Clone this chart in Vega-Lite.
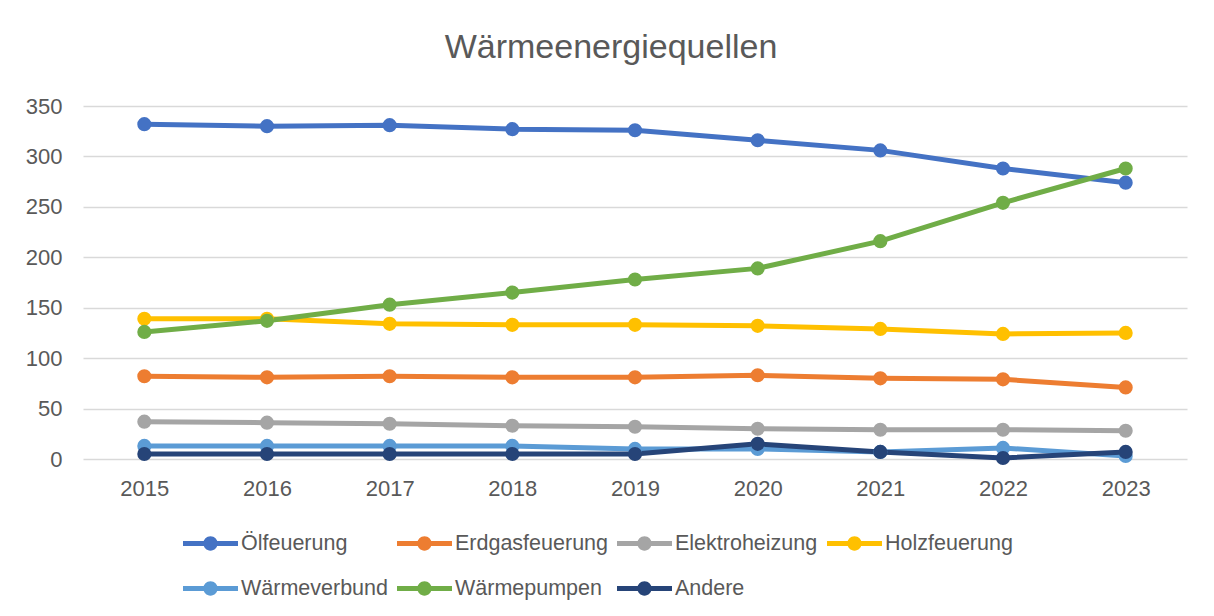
{
  "$schema": "https://vega.github.io/schema/vega-lite/v6.json",
  "autosize": {"type": "none"},
  "width": 1104,
  "height": 353,
  "padding": {"left": 83, "top": 106, "right": 27, "bottom": 157},
  "background": "white",
  "title": {
    "text": "Wärmeenergiequellen",
    "fontSize": 34,
    "font": "Liberation Sans",
    "fontWeight": "normal",
    "color": "#595959",
    "anchor": "middle",
    "dx": -24,
    "offset": 30
  },
  "data": {
    "values": [
      {"year": "2015", "series": "Ölfeuerung", "value": 332},
      {"year": "2016", "series": "Ölfeuerung", "value": 330},
      {"year": "2017", "series": "Ölfeuerung", "value": 331},
      {"year": "2018", "series": "Ölfeuerung", "value": 327},
      {"year": "2019", "series": "Ölfeuerung", "value": 326},
      {"year": "2020", "series": "Ölfeuerung", "value": 316},
      {"year": "2021", "series": "Ölfeuerung", "value": 306},
      {"year": "2022", "series": "Ölfeuerung", "value": 288},
      {"year": "2023", "series": "Ölfeuerung", "value": 274},
      {"year": "2015", "series": "Erdgasfeuerung", "value": 82},
      {"year": "2016", "series": "Erdgasfeuerung", "value": 81},
      {"year": "2017", "series": "Erdgasfeuerung", "value": 82},
      {"year": "2018", "series": "Erdgasfeuerung", "value": 81},
      {"year": "2019", "series": "Erdgasfeuerung", "value": 81},
      {"year": "2020", "series": "Erdgasfeuerung", "value": 83},
      {"year": "2021", "series": "Erdgasfeuerung", "value": 80},
      {"year": "2022", "series": "Erdgasfeuerung", "value": 79},
      {"year": "2023", "series": "Erdgasfeuerung", "value": 71},
      {"year": "2015", "series": "Elektroheizung", "value": 37},
      {"year": "2016", "series": "Elektroheizung", "value": 36},
      {"year": "2017", "series": "Elektroheizung", "value": 35},
      {"year": "2018", "series": "Elektroheizung", "value": 33},
      {"year": "2019", "series": "Elektroheizung", "value": 32},
      {"year": "2020", "series": "Elektroheizung", "value": 30},
      {"year": "2021", "series": "Elektroheizung", "value": 29},
      {"year": "2022", "series": "Elektroheizung", "value": 29},
      {"year": "2023", "series": "Elektroheizung", "value": 28},
      {"year": "2015", "series": "Holzfeuerung", "value": 139},
      {"year": "2016", "series": "Holzfeuerung", "value": 139},
      {"year": "2017", "series": "Holzfeuerung", "value": 134},
      {"year": "2018", "series": "Holzfeuerung", "value": 133},
      {"year": "2019", "series": "Holzfeuerung", "value": 133},
      {"year": "2020", "series": "Holzfeuerung", "value": 132},
      {"year": "2021", "series": "Holzfeuerung", "value": 129},
      {"year": "2022", "series": "Holzfeuerung", "value": 124},
      {"year": "2023", "series": "Holzfeuerung", "value": 125},
      {"year": "2015", "series": "Wärmeverbund", "value": 13},
      {"year": "2016", "series": "Wärmeverbund", "value": 13},
      {"year": "2017", "series": "Wärmeverbund", "value": 13},
      {"year": "2018", "series": "Wärmeverbund", "value": 13},
      {"year": "2019", "series": "Wärmeverbund", "value": 10},
      {"year": "2020", "series": "Wärmeverbund", "value": 10},
      {"year": "2021", "series": "Wärmeverbund", "value": 7},
      {"year": "2022", "series": "Wärmeverbund", "value": 11},
      {"year": "2023", "series": "Wärmeverbund", "value": 3},
      {"year": "2015", "series": "Wärmepumpen", "value": 126},
      {"year": "2016", "series": "Wärmepumpen", "value": 137},
      {"year": "2017", "series": "Wärmepumpen", "value": 153},
      {"year": "2018", "series": "Wärmepumpen", "value": 165},
      {"year": "2019", "series": "Wärmepumpen", "value": 178},
      {"year": "2020", "series": "Wärmepumpen", "value": 189},
      {"year": "2021", "series": "Wärmepumpen", "value": 216},
      {"year": "2022", "series": "Wärmepumpen", "value": 254},
      {"year": "2023", "series": "Wärmepumpen", "value": 288},
      {"year": "2015", "series": "Andere", "value": 5},
      {"year": "2016", "series": "Andere", "value": 5},
      {"year": "2017", "series": "Andere", "value": 5},
      {"year": "2018", "series": "Andere", "value": 5},
      {"year": "2019", "series": "Andere", "value": 5},
      {"year": "2020", "series": "Andere", "value": 15},
      {"year": "2021", "series": "Andere", "value": 7},
      {"year": "2022", "series": "Andere", "value": 1},
      {"year": "2023", "series": "Andere", "value": 7}
    ]
  },
  "mark": {
    "type": "line",
    "strokeWidth": 5,
    "point": {"filled": true, "size": 200, "opacity": 1}
  },
  "encoding": {
    "x": {
      "field": "year",
      "type": "ordinal",
      "title": null,
      "scale": {"type": "point", "padding": 0.5},
      "axis": {
        "labelAngle": 0,
        "ticks": false,
        "domain": false,
        "grid": false,
        "labelFontSize": 22,
        "labelFont": "Liberation Sans",
        "labelColor": "#595959",
        "labelPadding": 19
      }
    },
    "y": {
      "field": "value",
      "type": "quantitative",
      "title": null,
      "scale": {"domain": [0, 350], "nice": false},
      "axis": {
        "values": [0, 50, 100, 150, 200, 250, 300, 350],
        "ticks": false,
        "domain": false,
        "grid": true,
        "gridColor": "#d9d9d9",
        "gridWidth": 1.5,
        "labelFontSize": 22,
        "labelFont": "Liberation Sans",
        "labelColor": "#595959",
        "labelPadding": 21
      }
    },
    "color": {
      "field": "series",
      "type": "nominal",
      "sort": ["Ölfeuerung", "Erdgasfeuerung", "Elektroheizung", "Holzfeuerung", "Wärmeverbund", "Wärmepumpen", "Andere"],
      "scale": {
        "domain": ["Ölfeuerung", "Erdgasfeuerung", "Elektroheizung", "Holzfeuerung", "Wärmeverbund", "Wärmepumpen", "Andere"],
        "range": ["#4472C4", "#ED7D31", "#A5A5A5", "#FFC000", "#5B9BD5", "#70AD47", "#264478"]
      },
      "legend": {
        "title": null,
        "orient": "none",
        "legendX": 100,
        "legendY": 410,
        "direction": "horizontal",
        "columns": 4,
        "columnPadding": 9,
        "rowPadding": 7,
        "symbolType": "M-1,-0.09L1,-0.09L1,0.09L-1,0.09Z M-0.26,0A0.26,0.26 0 1,1 0.26,0A0.26,0.26 0 1,1 -0.26,0Z",
        "symbolSize": 3025,
        "symbolStrokeWidth": 0,
        "labelFontSize": 21.5,
        "labelFont": "Liberation Sans",
        "labelColor": "#595959",
        "labelOffset": 3,
        "labelLimit": 300,
        "encode": {
          "symbols": {
            "update": {
              "fill": {"scale": "color", "field": "value"},
              "strokeWidth": {"value": 0},
              "opacity": {"value": 1}
            }
          }
        }
      }
    },
    "order": {"field": "year"}
  },
  "config": {
    "view": {"stroke": null}
  }
}
